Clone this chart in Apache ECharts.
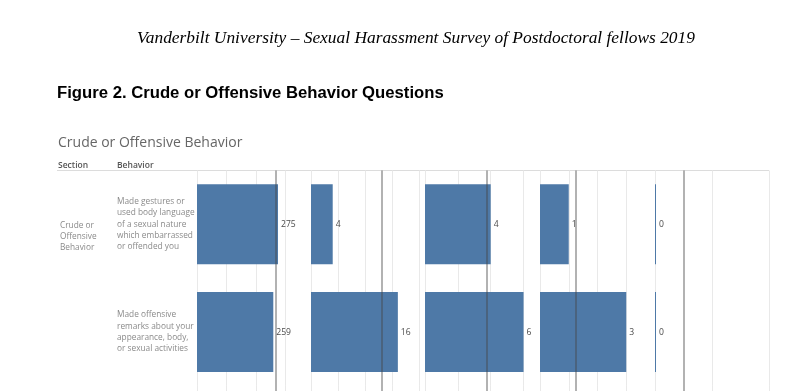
<!DOCTYPE html>
<html>
<head>
<meta charset="utf-8">
<script src="https://cdn.jsdelivr.net/npm/echarts@6/dist/echarts.min.js"></script>
<style>
html,body{margin:0;padding:0;background:#fff;}
#chart{width:806px;height:391px;}
</style>
</head>
<body>
<div id="chart"></div>
<script>
// ---- data ----
const pageHeader = 'Vanderbilt University \u2013 Sexual Harassment Survey of Postdoctoral fellows 2019';
const figureTitle = 'Figure 2. Crude or Offensive Behavior Questions';
const chartTitle = 'Crude or Offensive Behavior';
const columnHeaders = ['Section', 'Behavior'];
const sectionName = 'Crude or\nOffensive\nBehavior';
const behaviors = [
  'Made gestures or\nused body language\nof a sexual nature\nwhich embarrassed\nor offended you',
  'Made offensive\nremarks about your\nappearance, body,\nor sexual activities'
];
const panel1 = [275, 259];
const panel2 = [4, 16];
const panel3 = [4, 6];
const panel4 = [1, 3];
const panel5 = [0, 0];
const panels = [panel1, panel2, panel3, panel4, panel5];
const referenceLines = [266, 13, 3.75, 1.25, 0.5];
const axisMax = [387, 21, 7, 4, 2];
const axisInterval = [100, 5, 2, 1, 1];

// ---- layout ----
const paneLeft = [197, 311, 425, 540, 655];
const paneWidth = [114, 114, 115, 115, 114];
const gridTop = 170.5;
const bandH = 107.7;
const barColor = '#4e79a7';
const labelFont = '"Open Sans", "DejaVu Sans", sans-serif';

const chart = echarts.init(document.getElementById('chart'), null, {renderer: 'canvas'});

const grids = [], xAxes = [], yAxes = [], series = [];
const refMark = (i) => ({
  silent: true, symbol: 'none',
  label: {show: false},
  lineStyle: {color: 'rgba(70,70,70,0.55)', width: 1.5, type: 'solid'},
  data: [{xAxis: referenceLines[i]}],
  animation: false
});
const xAxisFor = (i, g) => ({
  type: 'value', gridIndex: g, min: 0, max: axisMax[i], interval: axisInterval[i],
  axisLabel: {show: false}, axisLine: {show: false}, axisTick: {show: false},
  splitLine: {show: true, lineStyle: {color: '#e9e9e9', width: 1}}
});

panels.forEach((vals, i) => {
  grids.push({left: paneLeft[i], top: gridTop, width: paneWidth[i], height: bandH * 2});
  xAxes.push(xAxisFor(i, i));
  yAxes.push({
    type: 'category', gridIndex: i, data: behaviors, inverse: true,
    axisLine: {show: false}, axisTick: {show: false}, splitLine: {show: false},
    axisLabel: i === 0 ? {
      show: true, align: 'left', margin: 80, color: '#8a8a8a', fontSize: 8.3,
      fontFamily: labelFont, lineHeight: 11.3
    } : {show: false}
  });
  series.push({
    type: 'bar', xAxisIndex: i, yAxisIndex: i, data: vals,
    barWidth: 80, barMinHeight: 1,
    itemStyle: {color: barColor},
    label: {show: true, position: 'right', distance: 3, color: '#4a4a4a', fontSize: 8.6, fontFamily: labelFont},
    markLine: refMark(i),
    animation: false
  });
});

// continuation of the panes below the visible rows (the chart is cut off at the bottom)
panels.forEach((vals, i) => {
  const g = panels.length + i;
  grids.push({left: paneLeft[i], top: gridTop + bandH * 2, width: paneWidth[i], height: 30});
  xAxes.push(xAxisFor(i, g));
  yAxes.push({type: 'value', gridIndex: g, min: 0, max: 1, show: false, splitLine: {show: false}});
  series.push({
    type: 'line', xAxisIndex: g, yAxisIndex: g, data: [],
    markLine: refMark(i), animation: false
  });
});

chart.setOption({
  animation: false,
  grid: grids,
  xAxis: xAxes,
  yAxis: yAxes,
  series: series,
  graphic: [
    {type: 'text', x: 416, y: 38, style: {text: pageHeader, font: 'italic 17.4px "Liberation Serif", serif', fill: '#000', align: 'center', verticalAlign: 'middle'}},
    {type: 'text', x: 57, y: 93, style: {text: figureTitle, font: 'bold 16.7px "Liberation Sans", Arial, sans-serif', fill: '#000', verticalAlign: 'middle'}},
    {type: 'text', x: 58, y: 143, style: {text: chartTitle, font: '14px "Open Sans", sans-serif', fill: '#666', verticalAlign: 'middle'}},
    {type: 'text', x: 58, y: 166, style: {text: columnHeaders[0], font: '600 8.5px "Open Sans", sans-serif', fill: '#555', verticalAlign: 'middle'}},
    {type: 'text', x: 117, y: 166, style: {text: columnHeaders[1], font: '600 8.5px "Open Sans", sans-serif', fill: '#555', verticalAlign: 'middle'}},
    {type: 'line', shape: {x1: 57, y1: 170.5, x2: 769, y2: 170.5}, style: {stroke: '#dcdcdc', lineWidth: 1}},
    {type: 'text', x: 60, y: 236.7, style: {text: sectionName, font: '8.3px "Open Sans", sans-serif', fill: '#8a8a8a', lineHeight: 11.3, verticalAlign: 'middle'}}
  ]
});
</script>
</body>
</html>
